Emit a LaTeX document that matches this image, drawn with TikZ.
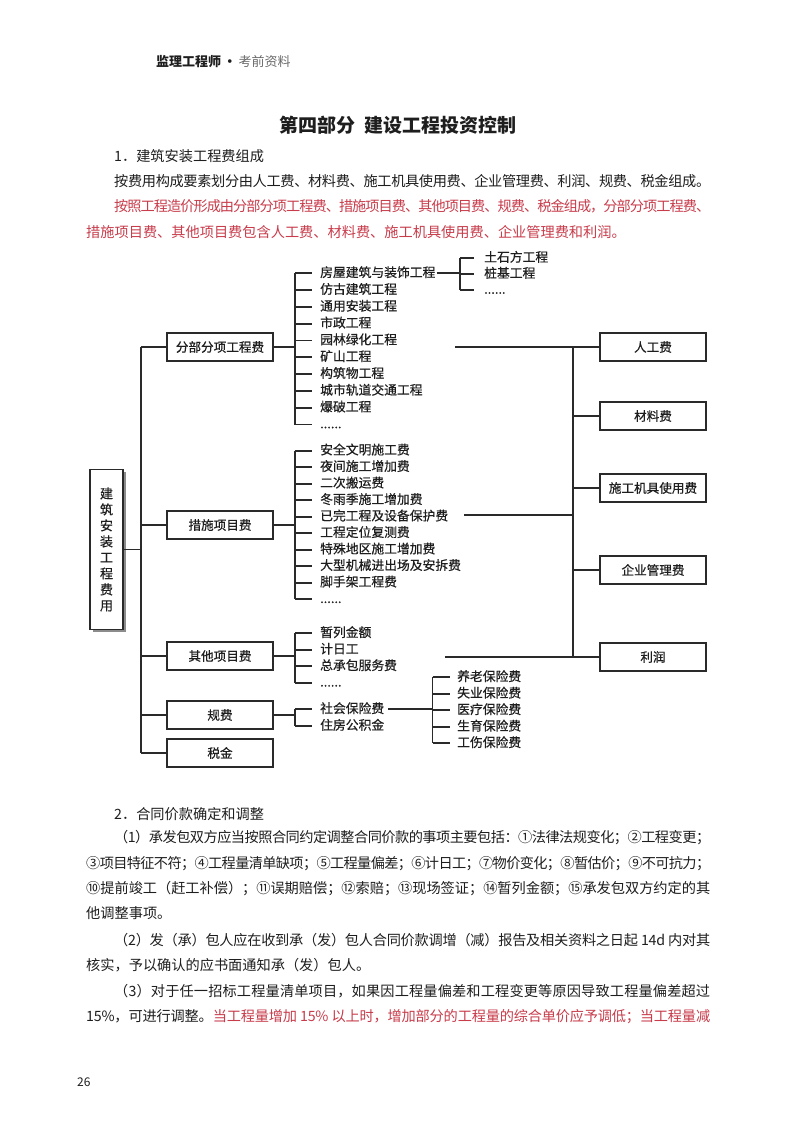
\documentclass[tikz,border=0pt]{standalone}
\usepackage{fontspec}
\setmainfont{Noto Sans CJK SC}
\newfontfamily\diagfont[FakeBold=0.5]{Noto Sans CJK SC}
\usetikzlibrary{shadows}
\definecolor{ink}{HTML}{1E1E1E}
\definecolor{wire}{HTML}{2A2A2A}
\definecolor{redink}{HTML}{C83C4B}
\definecolor{greyink}{HTML}{6A6A6A}
\definecolor{shade}{HTML}{8C8C8C}

\XeTeXinterchartoks 0 0 = {\hskip 0pt plus 3pt minus 1.5pt}
\XeTeXinterchartoks 0 1 = {\hskip 0pt plus 3pt minus 1.5pt}
\XeTeXinterchartoks 0 2 = {\hskip 0pt plus 3pt minus 1.5pt}
\XeTeXinterchartoks 0 3 = {\hskip 0pt plus 3pt minus 1.5pt}
\XeTeXinterchartoks 1 0 = {\hskip 0pt plus 3pt minus 1.5pt}
\XeTeXinterchartoks 1 1 = {\hskip 0pt plus 3pt minus 1.5pt}
\XeTeXinterchartoks 1 2 = {\hskip 0pt plus 3pt minus 1.5pt}
\XeTeXinterchartoks 1 3 = {\hskip 0pt plus 3pt minus 1.5pt}
\XeTeXinterchartoks 2 0 = {\hskip 0pt plus 3pt minus 1.5pt}
\XeTeXinterchartoks 2 1 = {\hskip 0pt plus 3pt minus 1.5pt}
\XeTeXinterchartoks 2 2 = {\hskip 0pt plus 3pt minus 1.5pt}
\XeTeXinterchartoks 2 3 = {\hskip 0pt plus 3pt minus 1.5pt}
\XeTeXinterchartoks 3 0 = {\hskip 0pt plus 3pt minus 1.5pt}
\XeTeXinterchartoks 3 1 = {\hskip 0pt plus 3pt minus 1.5pt}
\XeTeXinterchartoks 3 2 = {\hskip 0pt plus 3pt minus 1.5pt}
\XeTeXinterchartoks 3 3 = {\hskip 0pt plus 3pt minus 1.5pt}
\newcommand\fitline[2]{{\XeTeXinterchartokenstate=1 \makebox[#1][s]{#2}}}
\newcommand\leafdots{......}

\tikzset{
  catbox/.style={draw=wire,line width=1.8pt,fill=white,minimum width=106pt,
    minimum height=28pt,inner sep=0pt,font=\diagfont\fontsize{12.6}{14}\selectfont},
  leaf/.style={anchor=west,inner sep=0pt,text height=10pt,text depth=2.5pt,
    font=\diagfont\fontsize{12.8}{14}\selectfont},
  wire/.style={draw=wire,line width=1.8pt},
  body/.style={anchor=west,inner sep=0pt,text height=11pt,text depth=3pt,
    font=\fontsize{14.2}{16}\selectfont},
}

\begin{document}
\begin{tikzpicture}[x=1pt,y=-1pt,text=ink]
  \fill[white] (0,0) rectangle (800,1132);
  \useasboundingbox (0,0) rectangle (800,1132);

  \node[anchor=west,inner sep=0pt,font=\fontsize{13}{15}\selectfont] (hdr) at (156,62)
    {\textbf{监理工程师}\,\textbf{·}\,\textcolor{greyink}{考前资料}};
  \node[font=\fontsize{19}{22}\selectfont\bfseries] (title) at (398,125)
    {第四部分\hspace{0.5em}建设工程投资控制};

  \node[body] (s1) at (114,157) {1．建筑安装工程费组成};
  \node[body] (p1) at (114,182)
    {\fitline{596pt}{按费用构成要素划分由人工费、材料费、施工机具使用费、企业管理费、利润、规费、税金组成。}};
  \node[body,text=redink] (p2) at (114,207)
    {\fitline{596pt}{按照工程造价形成由分部分项工程费、措施项目费、其他项目费、规费、税金组成，分部分项工程费、}};
  \node[body,text=redink] (p3) at (86,233)
    {措施项目费、其他项目费包含人工费、材料费、施工机具使用费、企业管理费和利润。};

  % tree
  \node[draw=wire,line width=1.8pt,fill=white,minimum width=33pt,minimum height=160pt,
    inner sep=0pt,align=center,font=\diagfont\fontsize{13}{16}\selectfont,
    drop shadow={shadow xshift=2.5pt,shadow yshift=-2.5pt,fill=shade,opacity=1}]
    (root) at (106.5,549.5) {建\\筑\\安\\装\\工\\程\\费\\用};

  \node[catbox] (fbfx) at (220,347) {分部分项工程费};
  \node[catbox] (csxm) at (220,525) {措施项目费};
  \node[catbox] (qtxm) at (220,656) {其他项目费};
  \node[catbox] (gf) at (220,715) {规费};
  \node[catbox] (sj) at (220,753) {税金};

  \foreach \t [count=\i] in {房屋建筑与装饰工程,仿古建筑工程,通用安装工程,市政工程,
      园林绿化工程,矿山工程,构筑物工程,城市轨道交通工程,爆破工程,\leafdots}
    \node[leaf] (fb\i) at (320,{273.3+16.8*(\i-1)}) {\t};
  \foreach \t [count=\i] in {安全文明施工费,夜间施工增加费,二次搬运费,冬雨季施工增加费,
      已完工程及设备保护费,工程定位复测费,特殊地区施工增加费,大型机械进出场及安拆费,
      脚手架工程费,\leafdots}
    \node[leaf] (cs\i) at (320,{450.7+16.5*(\i-1)}) {\t};
  \foreach \t [count=\i] in {暂列金额,计日工,总承包服务费,\leafdots}
    \node[leaf] (qt\i) at (320,{633.3+16.5*(\i-1)}) {\t};
  \foreach \t [count=\i] in {社会保险费,住房公积金}
    \node[leaf] (gf\i) at (320,{709.3+16.7*(\i-1)}) {\t};
  \foreach \t [count=\i] in {土石方工程,桩基工程,\leafdots}
    \node[leaf] (fj\i) at (484,{258+16*(\i-1)}) {\t};
  \foreach \t [count=\i] in {养老保险费,失业保险费,医疗保险费,生育保险费,工伤保险费}
    \node[leaf] (sb\i) at (457,{677.3+16.5*(\i-1)}) {\t};

  \node[catbox] (rgf) at (653,347) {人工费};
  \node[catbox] (clf) at (653,416) {材料费};
  \node[catbox] (jjf) at (653,488) {施工机具使用费};
  \node[catbox] (qyf) at (653,570) {企业管理费};
  \node[catbox] (lr) at (653,657) {利润};

  \coordinate (L) at (141,0);
  \coordinate (B) at (295,0);
  \coordinate (Bfj) at (460,0);
  \coordinate (Bsb) at (432.5,0);
  \coordinate (R) at (573,0);
  \coordinate (e1) at (455,347);
  \coordinate (e2) at (464,515);
  \coordinate (e3) at (445,657);

  \draw[wire] (root.east) -- (L |- root.east);
  \draw[wire] (L |- fbfx.west) -- (L |- sj.west);
  \foreach \n in {fbfx,csxm,qtxm,gf,sj}
    \draw[wire] (L |- \n.west) -- (\n.west);

  \foreach \n in {fbfx,csxm,qtxm,gf}
    \draw[wire] (\n.east) -- (B |- \n.east);
  \draw[wire] (B |- fb1.west) -- (B |- fb10.west);
  \draw[wire] (B |- cs1.west) -- (B |- cs10.west);
  \draw[wire] (B |- qt1.west) -- (B |- qt4.west);
  \draw[wire] (B |- gf1.west) -- (B |- gf2.west);
  \foreach \k/\m in {fb/10,cs/10,qt/4,gf/2}
    \foreach \i in {1,...,\m}
      \draw[wire,shorten >=8pt] (B |- \k\i.west) -- (\k\i.west);

  \draw[wire,shorten <=1pt] (fb1.east) -- (Bfj |- fb1.east);
  \draw[wire] (Bfj |- fj1.west) -- (Bfj |- fj3.west);
  \foreach \i in {1,2,3}
    \draw[wire,shorten >=10pt] (Bfj |- fj\i.west) -- (fj\i.west);

  \draw[wire,shorten <=4pt] (gf1.east) -- (Bsb |- gf1.east);
  \draw[wire] (Bsb |- sb1.west) -- (Bsb |- sb5.west);
  \foreach \i in {1,...,5}
    \draw[wire,shorten >=7pt] (Bsb |- sb\i.west) -- (sb\i.west);

  \draw[wire] (R |- rgf.west) -- (R |- lr.west);
  \foreach \n in {rgf,clf,jjf,qyf,lr}
    \draw[wire] (R |- \n.west) -- (\n.west);
  \foreach \e in {e1,e2,e3}
    \draw[wire] (\e) -- (R |- \e);

  \node[body] (s2) at (114,815) {2．合同价款确定和调整};
  \node[body] (q1) at (114,838)
    {\fitline{596pt}{（1）承发包双方应当按照合同约定调整合同价款的事项主要包括：①法律法规变化；②工程变更；}};
  \node[body] (q2) at (86,864)
    {\fitline{624pt}{③项目特征不符；④工程量清单缺项；⑤工程量偏差；⑥计日工；⑦物价变化；⑧暂估价；⑨不可抗力；}};
  \node[body] (q3) at (86,889)
    {\fitline{624pt}{⑩提前竣工（赶工补偿）；⑪误期赔偿；⑫索赔；⑬现场签证；⑭暂列金额；⑮承发包双方约定的其}};
  \node[body] (q4) at (86,914) {他调整事项。};
  \node[body] (q5) at (114,941)
    {\fitline{596pt}{（2）发（承）包人应在收到承（发）包人合同价款调增（减）报告及相关资料之日起 14d 内对其}};
  \node[body] (q6) at (86,966) {核实，予以确认的应书面通知承（发）包人。};
  \node[body] (q7) at (114,992)
    {\fitline{596pt}{（3）对于任一招标工程量清单项目，如果因工程量偏差和工程变更等原因导致工程量偏差超过}};
  \node[body] (q8) at (86,1017)
    {\fitline{624pt}{15\%，可进行调整。\textcolor{redink}{当工程量增加 15\% 以上时，增加部分的工程量的综合单价应予调低；当工程量减}}};

  \node[anchor=west,inner sep=0pt,font=\fontsize{12}{14}\selectfont] (pgno) at (77,1082) {26};
\end{tikzpicture}
\end{document}
